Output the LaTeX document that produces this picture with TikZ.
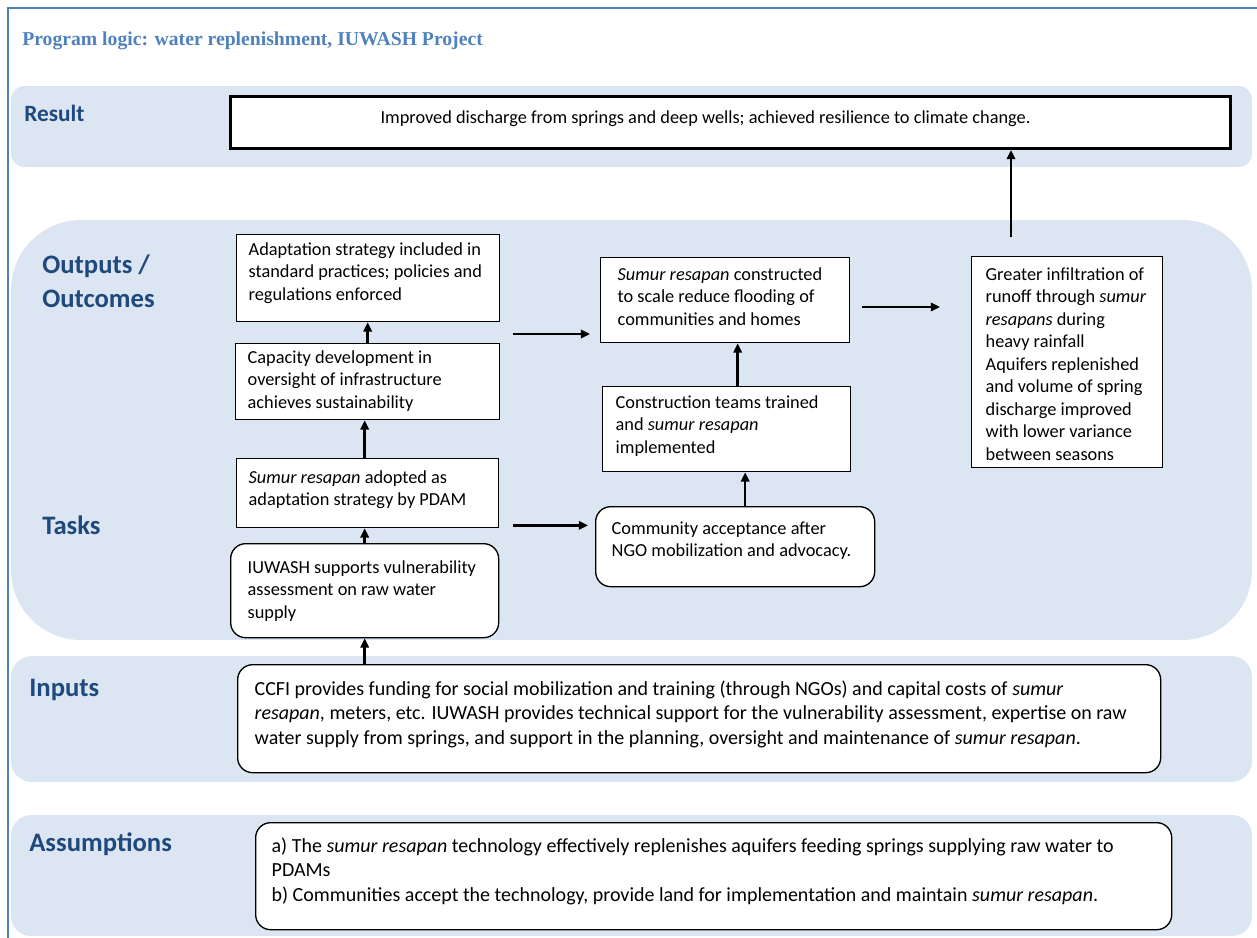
\documentclass[tikz,border=0pt]{standalone}
\usepackage{fontspec}
\setmainfont{Carlito}
\newfontfamily\titlefont{Liberation Serif}
\usetikzlibrary{arrows.meta,calc}
\definecolor{panelc}{RGB}{220,230,242}
\definecolor{framec}{RGB}{79,129,189}
\definecolor{labelc}{RGB}{31,73,125}
\definecolor{titlec}{RGB}{79,129,189}
\newdimen\pxu \pxu=0.6pt
% \bt{width}{height}{left pad}{top pad}{text}
\newcommand\bt[5]{\hspace*{#3\pxu}\parbox[c][#2\pxu][t]{\dimexpr#1\pxu-#3\pxu\relax}{\vspace*{#4\pxu}\raggedright\strut #5}}
\tikzset{
  panel/.style={fill=panelc, draw=none},
  sqbox/.style={draw=black, line width=0.8pt, fill=white, inner sep=0pt, anchor=north west},
  rbox/.style={sqbox, rounded corners=9pt},
  resbox/.style={sqbox, line width=1.8pt},
  lbl/.style={font=\fontsize{16}{20.4}\selectfont\bfseries, text=labelc, anchor=base west, inner sep=0pt, align=left},
  titlest/.style={font=\titlefont\fontsize{11.8}{14}\selectfont\bfseries, text=titlec, anchor=base west, inner sep=0pt},
  arr/.style={line width=1.5pt, -{Triangle[length=5.5pt,width=5pt]}},
  bigtext/.style={font=\fontsize{12}{14.7}\selectfont},
}
\begin{document}
\begin{tikzpicture}[x=0.6pt,y=-0.6pt, font=\fontsize{11}{13.5}\selectfont]
\useasboundingbox (0,0) rectangle (1257,937);
\begin{scope}
  \clip (0,0) rectangle (1257,937);
  \draw[framec, line width=0.9pt] (8,960) -- (8,8) -- (1280,8);
\end{scope}
\node[titlest] (title) at (22,45) {Program logic: water replenishment, IUWASH Project};
% panels
\fill[panel, rounded corners=8pt] (11,86) rectangle (1252,167);
\fill[panel, rounded corners=42pt] (11,220) rectangle (1252,640);
\fill[panel, rounded corners=12.5pt] (11,656) rectangle (1252,782);
\fill[panel, rounded corners=12pt] (11,815) rectangle (1252,936);
% labels
\node[lbl, font=\fontsize{14}{17}\selectfont\bfseries] (lres) at (24,121) {Result};
\node[lbl] (lout1) at (42,273) {Outputs /};
\node[lbl] (lout2) at (42,307) {Outcomes};
\node[lbl] (ltask) at (42,534) {Tasks};
\node[lbl] (linp) at (29,696) {Inputs};
\node[lbl] (lass) at (29,851) {Assumptions};
% boxes
\node[resbox] (res) at (229,95) {\bt{1000}{52}{150}{11}{Improved discharge from springs and deep wells; achieved resilience to climate change.}};
\node[sqbox] (a1) at (236,234) {\bt{263}{87}{12}{5}{Adaptation strategy included in\\standard practices; policies and\\regulations enforced}};
\node[sqbox] (a2) at (235,343) {\bt{264}{76}{12}{4}{Capacity development in\\oversight of infrastructure\\achieves sustainability}};
\node[sqbox] (a3) at (236,458) {\bt{262}{69}{12}{9}{\textit{Sumur resapan} adopted as\\adaptation strategy by PDAM}};
\node[rbox] (a4) at (230,543) {\bt{268}{94}{17}{14}{IUWASH supports vulnerability\\assessment on raw water\\supply}};
\node[sqbox] (b1) at (600,257) {\bt{249}{85}{17}{7}{\textit{Sumur resapan} constructed\\to scale reduce flooding of\\communities and homes}};
\node[sqbox] (b2) at (602,386) {\bt{248}{85}{13}{6}{Construction teams trained\\and \textit{sumur resapan}\\implemented}};
\node[sqbox] (c) at (971,256) {\bt{191}{211}{14}{8}{Greater infiltration of\\runoff through \textit{sumur}\\\textit{resapans} during\\heavy rainfall\\Aquifers replenished\\and volume of spring\\discharge improved\\with lower variance\\between seasons}};
\node[rbox] (d) at (595,506) {\bt{279}{80}{16}{12}{Community acceptance after\\NGO mobilization and advocacy.}};
\node[rbox, bigtext] (e) at (237,664) {\bt{923}{108}{17}{13.5}{CCFI provides funding for social mobilization and training (through NGOs) and capital costs of \textit{sumur}\\\textit{resapan}, meters, etc. IUWASH provides technical support for the vulnerability assessment, expertise on raw\\water supply from springs, and support in the planning, oversight and maintenance of \textit{sumur resapan}.}};
\node[rbox, bigtext] (f) at (255,822) {\bt{916}{107}{16}{12.5}{a) The \textit{sumur resapan} technology effectively replenishes aquifers feeding springs supplying raw water to\\PDAMs\\b) Communities accept the technology, provide land for implementation and maintain \textit{sumur resapan}.}};
% connectors
\coordinate (c1) at ($(c.north west)+(40,-19)$);
\draw[arr] (c1) -- (c1 |- res.south);
\coordinate (b1o) at ($(b1.north east)+(12,50)$);
\draw[arr] (b1o) -- ($(b1o -| c.west)+(-31,0)$);
\coordinate (a2o) at ($(a2.north east)+(13,-9)$);
\draw[arr] (a2o) -- ($(a2o -| b1.west)+(-10,0)$);
\draw[arr] (a2.north) -- (a2.north |- a1.south);
\draw[arr] (a3.north -| a4.north) -- (a4.north |- a2.south);
\draw[arr] (a4.north) -- (a4.north |- a3.south);
\coordinate (a3o) at ($(a3.south east)+(14,-3)$);
\draw[arr] (a3o) -- ($(a3o -| d.west)+(-7,0)$);
\coordinate (d1) at ($(d.north)+(10,0)$);
\draw[arr] (d1) -- (d1 |- b2.south);
\coordinate (b2o) at ($(b2.north)+(11,0)$);
\draw[arr] (b2o) -- (b2o |- b1.south);
\draw[arr] (e.north -| a4.south) -- (a4.south);
\end{tikzpicture}
\end{document}
